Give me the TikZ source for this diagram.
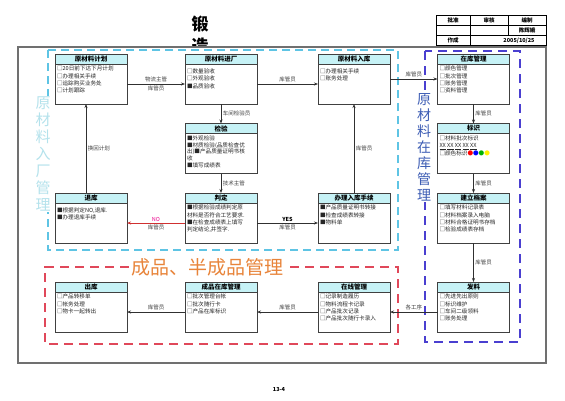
\documentclass[tikz,border=0pt]{standalone}
\usepackage{fontspec}
\setmainfont{Noto Sans CJK SC}
\usetikzlibrary{positioning,arrows.meta}

\definecolor{hdcyan}{HTML}{C6F2F6}
\definecolor{boxgray}{HTML}{404040}
\definecolor{linegray}{HTML}{303030}
\definecolor{labelgray}{HTML}{404040}
\definecolor{framegray}{HTML}{707070}
\definecolor{zonecyan}{HTML}{5EC4E4}
\definecolor{zoneblue}{HTML}{4A3FD0}
\definecolor{zonered}{HTML}{E0485A}
\definecolor{titleorange}{HTML}{E8843A}
\definecolor{vcyan}{HTML}{B4E2EC}
\definecolor{vblue}{HTML}{3C5CB4}
\definecolor{noarrow}{HTML}{D03030}

\newcommand\cardtext[1]{\parbox[c][36pt][t]{68pt}{#1}}

\begin{document}
\begin{tikzpicture}[x=1pt,y=-1pt,
  hd/.style={draw=boxgray,fill=hdcyan,line width=0.6pt,minimum width=72pt,minimum height=10pt,
    inner sep=0pt,outer sep=0pt,font=\fontsize{6.5}{7}\selectfont\bfseries},
  bd/.style={draw=boxgray,fill=white,line width=0.6pt,inner sep=2pt,outer sep=0pt,
    text=black!85,font=\fontsize{5.6}{7.4}\selectfont},
  arr/.style={draw=linegray,line width=0.6pt,-{Stealth[length=4pt,width=3pt]}},
  lbl/.style={font=\fontsize{5.5}{6}\selectfont,text=labelgray,inner sep=1.5pt},
  zone/.style={line width=2pt,dash pattern=on 8pt off 5pt},
  vtext/.style={fill=white,inner sep=1pt,align=center},
  cell/.style={font=\fontsize{5.5}{6}\selectfont\bfseries,inner sep=0pt}]
\useasboundingbox (0,0) rectangle (565,400);

% heading
\node[font=\fontsize{17}{18}\selectfont\bfseries] (head1) at (200,24) {锻};
\node[font=\fontsize{17}{18}\selectfont\bfseries] (head2) at (200,46) {造};
\fill[white] (18,47) rectangle (546,363);
\draw[draw=framegray,line width=1.4pt] (18,47) rectangle (546,363);

% sign-off table
\draw[line width=0.5pt] (436,15) rectangle (546,45);
\draw[line width=0.5pt] (436,25.5) -- (546,25.5) (436,35.5) -- (546,35.5)
  (470,15) -- (470,45) (508,15) -- (508,35.5);
\node[cell] (c-pz) at (453,20.5) {批准};
\node[cell] (c-sh) at (489,20.5) {审核};
\node[cell] (c-bz) at (527,20.5) {编制};
\node[cell] (c-name) at (527,30.5) {陈辉娥};
\node[cell] (c-zc) at (453,40.5) {作成};
\node[cell] (c-date) at (519,40.5) {2005/10/25};

% zones
\draw[zone,draw=zonecyan] (48,50) rectangle (398,250);
\draw[zone,draw=zoneblue,line width=2.4pt,dash pattern=on 9pt off 6pt] (425,51) rectangle (520,342);
\node[font=\fontsize{19}{20}\selectfont,text=titleorange,inner sep=2pt] (fgtitle) at (207,267) {成品、半成品管理};
\draw[zone,draw=zonered,dash pattern=on 9pt off 6pt] (fgtitle.west) -- (45,267) -- (45,344) -- (398,344) -- (398,267) -- (fgtitle.east);
\node[vtext,text=vcyan,font=\fontsize{15}{17}\selectfont] (intitle) at (43,154) {原\\材\\料\\入\\厂\\管\\理};
\node[vtext,text=vblue,font=\fontsize{14}{16}\selectfont] (stocktitle) at (424,147.5) {原\\材\\料\\在\\库\\管\\理};

% row 1
\node[hd] (plan) at (91,59) {原材料计划};
\node[bd,below=0pt of plan] (plan-b) {\cardtext{□20日前下达下月计划\\□办理相关手续\\□追踪购买业务处\\□计划跟踪}};
\node[hd] (enter) at (221,59) {原材料进厂};
\node[bd,below=0pt of enter] (enter-b) {\cardtext{\mbox{}\\□数量验收\\□外观验收\\■品质验收}};
\node[hd] (store) at (354,59) {原材料入库};
\node[bd,below=0pt of store] (store-b) {\cardtext{\mbox{}\\□办理相关手续\\□账务处理}};
\node[hd] (stock) at (473.5,59) {在库管理};
\node[bd,below=0pt of stock] (stock-b) {\cardtext{□颜色管理\\□批次管理\\□账务管理\\□资料管理}};

% row 2
\node[hd] (check) at (221,128.5) {检验};
\node[bd,below=0pt of check,font=\fontsize{5.6}{6.8}\selectfont] (check-b) {\cardtext{■外观检验\\■材质检验(品质检查优\\出)■产品质量证明书核\\收\\■填写成绩表}};
\node[hd] (mark) at (473.5,128.5) {标识};
\node[bd,below=0pt of mark] (mark-b) {\cardtext{□材料批次标识\\\underline{XX} \underline{XX} \underline{XX} \underline{XX} \underline{XX}\\□颜色标识{\color{red}●}{\color{blue}●}{\color{green!70!black}●}{\color{yellow}●}}};

% row 3
\node[hd] (back) at (91,198) {退库};
\node[bd,below=0pt of back] (back-b) {\cardtext{\mbox{}\\■根据判定NO,退库.\\■办理退库手续}};
\node[hd] (judge) at (221,198) {判定};
\node[bd,below=0pt of judge] (judge-b) {\cardtext{■根据检验成绩判定原\\材料是否符合工艺要求.\\■在检查成绩表上填写\\判定结论,并签字.}};
\node[hd] (inproc) at (354,198) {办理入库手续};
\node[bd,below=0pt of inproc] (inproc-b) {\cardtext{■产品质量证明书转接\\■检查成绩表转接\\■物料单}};
\node[hd] (file) at (473.5,198) {建立档案};
\node[bd,below=0pt of file] (file-b) {\cardtext{□填写材料记录表\\□材料档案录入电脑\\□材料合格证明书存档\\□检验成绩表存档}};

% row 4
\node[hd] (out) at (91,287) {出库};
\node[bd,below=0pt of out] (out-b) {\cardtext{□产品转移单\\□帐务处理\\□物卡一起转出}};
\node[hd] (fg) at (221,287) {成品在库管理};
\node[bd,below=0pt of fg] (fg-b) {\cardtext{□批次管理台帐\\□批次随行卡\\□产品在库标识}};
\node[hd] (online) at (354,287) {在线管理};
\node[bd,below=0pt of online] (online-b) {\cardtext{□记录制造履历\\□物料流程卡记录\\□产品批次记录\\□产品批次随行卡录入}};
\node[hd] (issue) at (473.5,287) {发料};
\node[bd,below=0pt of issue] (issue-b) {\cardtext{□先进先出原则\\□标识维护\\□车间二级领料\\□账务处理}};

% flow
\draw[arr] (plan-b) -- node[lbl,above] (l-plan1) {物流主管} node[lbl,below] (l-plan2) {库管员} (enter-b);
\draw[arr] (enter-b) -- node[lbl,above] (l-enter) {库管员} (store-b);
\draw[arr] ([yshift=5pt]store-b.east) -- node[lbl,above] (l-store) {库管员} ([yshift=5pt]store-b.east -| stock-b.west);
\draw[arr] (enter-b) -- node[lbl,right] (l-check) {车间检验员} (check);
\draw[arr] (check-b) -- node[lbl,right] (l-judge) {技术主管} (judge);
\draw[arr,draw=noarrow] (judge-b) -- node[lbl,above,text=magenta] (l-no) {NO} node[lbl,below] (l-back) {库管员} (back-b);
\draw[arr] (judge-b) -- node[lbl,above,text=black,font=\fontsize{5.5}{6}\selectfont\bfseries] (l-yes) {YES} node[lbl,below] (l-in) {库管员} (inproc-b);
\draw[arr] (inproc) -- node[lbl,right] (l-up) {库管员} (store-b);
\draw[arr] ([xshift=-5pt]back.north) -- node[lbl,right] (l-replan) {换回计划} ([xshift=-5pt]plan-b.south);
\draw[arr] (stock-b) -- node[lbl,right] (l-mark) {库管员} (mark);
\draw[arr] (mark-b) -- node[lbl,right] (l-file) {库管员} (file);
\draw[arr] (file-b) -- node[lbl,right] (l-issue) {库管员} (issue);
\draw[arr] (issue-b) -- node[lbl,above] (l-online) {各工序} (online-b);
\draw[arr] (online-b) -- node[lbl,above] (l-fg) {库管员} (fg-b);
\draw[arr] (fg-b) -- node[lbl,above] (l-out) {库管员} (out-b);

\node[font=\fontsize{5.5}{6}\selectfont\bfseries] (pageno) at (279,389) {13-4};
\end{tikzpicture}
\end{document}
